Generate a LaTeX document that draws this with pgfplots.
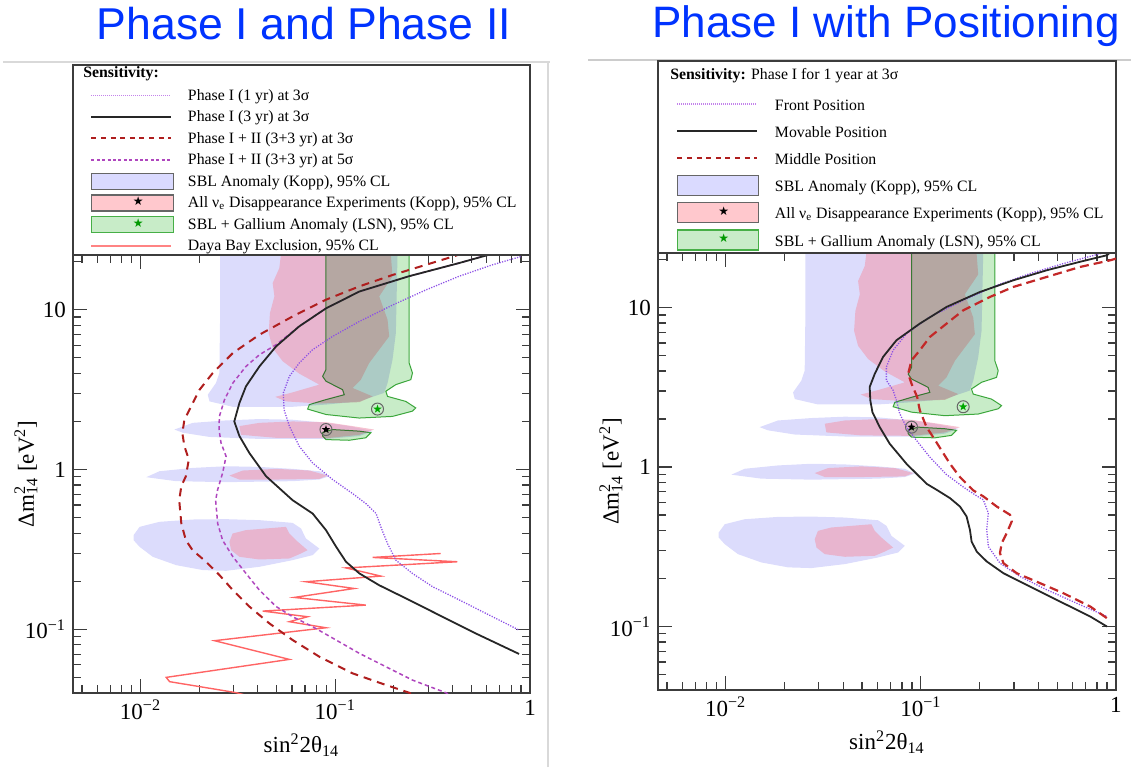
\documentclass[border=0pt]{standalone}
\usepackage{fontspec}
\setmainfont{Liberation Serif}
\newfontfamily\titlefont{Liberation Sans}
\newfontfamily\symfont{DejaVu Sans}
\usepackage{pgfplots}
\pgfplotsset{compat=1.18}
\usepackage{pgfplotstable}

\definecolor{sblblue}{RGB}{220,220,252}
\definecolor{pinkf}{RGB}{240,155,178}
\definecolor{greenf}{RGB}{200,236,200}
\definecolor{greenl}{RGB}{70,175,70}
\definecolor{pinkleg}{RGB}{255,200,205}
\definecolor{blueleg}{RGB}{218,218,255}
\definecolor{darkred}{RGB}{175,30,30}
\definecolor{darkred2}{RGB}{195,40,40}
\definecolor{pdash}{RGB}{175,70,190}
\definecolor{pdot}{RGB}{140,80,230}
\definecolor{pdotleg}{RGB}{195,130,235}
\definecolor{daya}{RGB}{255,100,100}
\definecolor{titleblue}{RGB}{0,51,255}
\definecolor{axgray}{RGB}{60,60,60}

\pgfdeclareplotmark{fstar}{%
  \pgfpathmoveto{\pgfpointpolar{90}{\pgfplotmarksize}}%
  \pgfpathlineto{\pgfpointpolar{126}{0.4\pgfplotmarksize}}%
  \pgfpathlineto{\pgfpointpolar{162}{\pgfplotmarksize}}%
  \pgfpathlineto{\pgfpointpolar{198}{0.4\pgfplotmarksize}}%
  \pgfpathlineto{\pgfpointpolar{234}{\pgfplotmarksize}}%
  \pgfpathlineto{\pgfpointpolar{270}{0.4\pgfplotmarksize}}%
  \pgfpathlineto{\pgfpointpolar{306}{\pgfplotmarksize}}%
  \pgfpathlineto{\pgfpointpolar{342}{0.4\pgfplotmarksize}}%
  \pgfpathlineto{\pgfpointpolar{18}{\pgfplotmarksize}}%
  \pgfpathlineto{\pgfpointpolar{54}{0.4\pgfplotmarksize}}%
  \pgfpathclose\pgfusepathqfill}

\tikzset{
  dotline/.style={color=pdot, line width=0.65pt, dash pattern=on 0.6pt off 0.7pt},
  blackline/.style={color=black!85, line width=0.9pt},
  redline/.style={color=darkred, line width=1pt, dash pattern=on 4pt off 3pt},
  purline/.style={color=pdash, line width=0.75pt, dash pattern=on 2pt off 1.5pt},
  dayaline/.style={color=daya, line width=0.7pt},
  redlineR/.style={color=darkred2, line width=1.1pt, dash pattern=on 4.5pt off 2.5pt},
}
\newcommand\LSa{\rule[-2.2pt]{0pt}{8.5pt}}
\newcommand\LSb{\rule[-3pt]{0pt}{10.5pt}}

% ---------------- allowed regions (shared by both panels) ----------------
\pgfplotstableread{
x y
0.02562 22
0.2088 22
0.2047 7.15
0.1968 4.87
0.1856 3.48
0.1783 3.02
0.1327 2.67
0.0896 2.55
0.0604 2.47
0.0297 2.47
0.0226 2.67
0.02215 2.94
0.0244 3.48
0.0254 4.02
0.02562 9.085
0.02562 22
}\blueA
\pgfplotstableread{
x y
0.01493 1.78
0.01854 1.96
0.0275 2.03
0.0408 2.07
0.0604 2.05
0.0896 1.96
0.1180 1.87
0.1554 1.74
0.1327 1.62
0.0896 1.555
0.0408 1.555
0.0226 1.60
0.01648 1.70
0.01493 1.78
}\blueB
\pgfplotstableread{
x y
0.0107 0.896
0.01251 0.976
0.01854 1.024
0.0275 1.049
0.0408 1.039
0.0604 1.01
0.0828 0.976
0.0932 0.909
0.0828 0.866
0.0604 0.846
0.0275 0.834
0.01524 0.846
0.0107 0.896
}\blueC
\pgfplotstableread{
x y
0.00921 0.3886
0.00989 0.438
0.01251 0.471
0.01854 0.487
0.0275 0.4894
0.0408 0.4825
0.0604 0.464
0.0667 0.428
0.0707 0.3705
0.0828 0.3206
0.0765 0.2914
0.0604 0.2712
0.0408 0.2464
0.0275 0.2326
0.0209 0.235
0.01524 0.2523
0.01156 0.2845
0.00989 0.3286
0.00921 0.3617
0.00921 0.3886
}\blueD
\pgfplotstableread{
x y
0.0526 22
0.1930 22
0.1968 16.16
0.1681 12.12
0.1856 8.66
0.1892 6.81
0.1681 5.62
0.1494 4.64
0.1354 3.65
0.1227 3.24
0.1554 2.87
0.1327 2.64
0.0828 2.59
0.0558 2.67
0.0492 2.85
0.0604 3.04
0.0828 3.40
0.0654 3.98
0.0537 4.76
0.0477 5.76
0.0455 7.15
0.0462 9.53
0.0487 12.12
0.0477 14.68
0.0516 18.21
0.0526 22
}\pinkA
\pgfplotstableread{
x y
0.0322 1.87
0.0408 1.96
0.0604 2.00
0.0896 1.98
0.1227 1.87
0.1585 1.78
0.1327 1.65
0.0896 1.57
0.0496 1.58
0.0328 1.65
0.0322 1.87
}\pinkB
\pgfplotstableread{
x y
0.0286 0.917
0.0335 0.986
0.0496 1.01
0.0736 0.986
0.0914 0.917
0.0828 0.874
0.0496 0.866
0.0322 0.866
0.0286 0.917
}\pinkC
\pgfplotstableread{
x y
0.0286 0.353
0.0297 0.398
0.0348 0.418
0.0441 0.428
0.0558 0.438
0.0581 0.398
0.0628 0.3617
0.0721 0.313
0.0654 0.2955
0.0581 0.2778
0.0408 0.2738
0.0322 0.2845
0.0292 0.313
0.0286 0.353
}\pinkD
\pgfplotstableread{
x y
0.0896 22
0.0896 4.22
0.0861 3.83
0.0896 3.57
0.109 3.16
0.1112 2.94
0.0896 2.74
0.0736 2.55
0.0721 2.39
0.0896 2.21
0.1327 2.10
0.1968 2.15
0.2492 2.32
0.2592 2.43
0.2303 2.67
0.1856 2.87
0.1819 3.09
0.2047 3.40
0.2443 3.65
0.2492 4.02
0.2396 4.64
0.2396 22
0.0896 22
}\greenA
\pgfplotstableread{
x y
0.0861 1.71
0.0969 1.78
0.1134 1.76
0.1327 1.74
0.1524 1.70
0.1436 1.58
0.1180 1.525
0.0896 1.54
0.0861 1.62
0.0861 1.71
}\greenB

% ---------------- left panel curves ----------------
\pgfplotstableread{
x y
0.895 21.5
0.641 19.1
0.433 16.2
0.292 13.3
0.197 10.7
0.133 8.45
0.0969 6.81
0.0765 5.62
0.0653 4.64
0.0581 3.83
0.0541 3.01
0.0546 2.37
0.0581 1.87
0.0653 1.40
0.0765 1.10
0.0969 0.866
0.1227 0.708
0.1436 0.613
0.162 0.531
0.1714 0.438
0.1854 0.345
0.2047 0.271
0.249 0.224
0.316 0.185
0.433 0.153
0.593 0.126
0.879 0.099
}\dotL
\pgfplotstableread{
x y
0.617 22.1
0.433 19.6
0.239 16.2
0.133 13.0
0.0896 10.2
0.0653 7.87
0.0497 5.90
0.0408 4.42
0.0348 3.32
0.0322 2.61
0.0303 2.00
0.0322 1.62
0.0362 1.27
0.0441 0.909
0.0604 0.643
0.0765 0.531
0.0896 0.418
0.101 0.329
0.1135 0.265
0.133 0.224
0.168 0.189
0.239 0.153
0.355 0.120
0.526 0.0944
0.879 0.0702
}\blackL
\pgfplotstableread{
x y
0.45 22.6
0.416 21.8
0.292 19.1
0.197 16.5
0.133 14.0
0.0896 11.55
0.0604 9.08
0.0408 6.98
0.0298 5.36
0.0235 4.02
0.0201 3.16
0.0182 2.49
0.0168 2.05
0.0164 1.69
0.0168 1.40
0.0177 1.155
0.0171 0.909
0.0162 0.787
0.0158 0.643
0.0162 0.460
0.0171 0.361
0.0185 0.313
0.0217 0.265
0.0254 0.219
0.0298 0.176
0.0362 0.139
0.0459 0.109
0.0604 0.0858
0.0828 0.0675
0.1227 0.0531
0.182 0.0449
0.239 0.0402
0.26 0.038
}\redL
\pgfplotstableread{
x y
0.65 22.6
0.433 19.6
0.239 16.2
0.133 13.0
0.0896 10.2
0.0653 7.87
0.0497 6.04
0.0408 5.23
0.0348 4.42
0.0298 3.48
0.0270 2.74
0.0254 2.15
0.0253 1.78
0.0259 1.47
0.0275 1.21
0.0264 0.953
0.0249 0.750
0.0243 0.643
0.0249 0.460
0.0264 0.361
0.0298 0.285
0.0348 0.224
0.0408 0.176
0.0497 0.139
0.0604 0.120
0.0765 0.104
0.101 0.0858
0.133 0.0708
0.182 0.0584
0.249 0.0482
0.369 0.0402
0.40 0.038
}\purL
\pgfplotstableread{
x y
0.348 0.2985
0.1554 0.282
0.424 0.265
0.1135 0.2425
0.1714 0.2155
0.0707 0.1987
0.1251 0.1803
0.0616 0.1585
0.1436 0.1419
0.0424 0.1302
0.0721 0.120
0.0581 0.1117
0.0896 0.1024
0.0240 0.0850
0.0581 0.0649
0.01355 0.0501
0.0141 0.0471
0.031 0.0402
0.034 0.039
}\dayaL

% ---------------- right panel curves ----------------
\pgfplotstableread{
x y
1.0 23
0.831 21.8
0.538 18.9
0.363 16.35
0.2447 13.8
0.165 11.1
0.1112 8.74
0.0844 6.87
0.0721 5.40
0.0666 4.24
0.0666 3.50
0.0721 3.03
0.075 2.62
0.078 2.16
0.0844 1.78
0.095 1.47
0.1112 1.155
0.135 0.90
0.165 0.75
0.195 0.655
0.209 0.624
0.2218 0.514
0.2175 0.404
0.2218 0.3177
0.2544 0.2497
0.3226 0.206
0.442 0.170
0.656 0.1368
0.899 0.1156
}\dotR
\pgfplotstableread{
x y
0.95 22.6
0.899 21.3
0.656 19.4
0.442 17.15
0.298 14.84
0.201 12.54
0.1355 10.1
0.0988 7.94
0.075 6.24
0.0640 4.90
0.0581 3.85
0.0547 3.18
0.0551 2.62
0.0565 2.21
0.0616 1.78
0.0693 1.40
0.0844 1.049
0.107 0.786
0.1204 0.721
0.141 0.639
0.1586 0.566
0.1716 0.490
0.1785 0.404
0.182 0.3416
0.1932 0.2956
0.2175 0.256
0.265 0.216
0.363 0.178
0.538 0.140
0.738 0.1156
0.899 0.100
}\blackR
\pgfplotstableread{
x y
1.0 20.3
0.935 19.8
0.656 18.0
0.442 15.58
0.298 13.48
0.2262 11.67
0.165 9.62
0.1355 7.94
0.1112 6.54
0.0988 5.40
0.0896 4.67
0.0861 3.85
0.0896 3.33
0.0958 2.75
0.0988 2.27
0.107 1.78
0.1157 1.54
0.1277 1.272
0.141 1.049
0.1586 0.866
0.1857 0.714
0.209 0.655
0.2447 0.566
0.2865 0.502
0.2922 0.456
0.2755 0.385
0.2597 0.3334
0.2544 0.2886
0.265 0.2497
0.310 0.216
0.4088 0.187
0.538 0.1618
0.738 0.1335
0.899 0.1128
}\redR

\begin{document}
\begin{tikzpicture}
\useasboundingbox (0pt,0pt) rectangle (565.5pt,383.5pt);
\draw[black!15, line width=0.6pt] (1.5pt,352.5pt) -- (275pt,352.5pt);
\draw[black!15, line width=0.6pt] (274pt,0pt) -- (274pt,352.5pt);
\draw[black!20, line width=0.6pt] (294pt,353.5pt) -- (565.5pt,353.5pt);

% ================= left panel =================
\begin{axis}[name=L, at={(36.5pt,37pt)}, anchor=south west,
  width=228.5pt, height=219pt, scale only axis,
  xmode=log, ymode=log,
  xmin=0.0045, xmax=1, ymin=0.04, ymax=22,
  xtick={0.01,0.1,1}, xticklabels={10\textsuperscript{−2},10\textsuperscript{−1},1},
  ytick={0.1,1,10}, yticklabels={10\textsuperscript{−1},1,10},
  minor xtick={0.005,0.006,0.007,0.008,0.009,0.02,0.03,0.04,0.05,0.06,0.07,0.08,0.09,0.2,0.3,0.4,0.5,0.6,0.7,0.8,0.9},
  minor ytick={0.05,0.06,0.07,0.08,0.09,0.2,0.3,0.4,0.5,0.6,0.7,0.8,0.9,2,3,4,5,6,7,8,9,20},
  axis line style={axgray, line width=1pt},
  tick style={axgray, line width=0.6pt},
  major tick length=7pt, minor tick length=4pt,
  tick label style={font=\fontsize{11.5}{13}\selectfont},
  label style={font=\fontsize{11.5}{13}\selectfont},
  xlabel={sin\textsuperscript{2}2θ\textsubscript{14}},
  ylabel={Δm\rlap{\textsuperscript{2}}\textsubscript{14} [eV\textsuperscript{2}]},
  ylabel style={at={(axis description cs:-0.103,0.5)}, anchor=center},
  legend cell align=left,
  legend style={at={(0,1)}, anchor=south west, xshift=8.5pt, yshift=0pt,
    draw=none, fill=none, inner sep=0pt, row sep=2.15pt, column sep=7pt,
    nodes={inner sep=0pt}, font=\fontsize{7.9}{9}\selectfont},
]
\addlegendimage{legend image code/.code={\path[draw=none, fill=none] (0pt,-4.3pt) rectangle (41pt,4.3pt); \draw[color=pdotleg, line width=0.55pt, dash pattern=on 0.5pt off 0.5pt] (0pt,0pt) -- (40pt,0pt);}}
\addlegendentry{\LSa Phase I (1 yr) at 3σ}
\addlegendimage{legend image code/.code={\path[draw=none, fill=none] (0pt,-4.3pt) rectangle (41pt,4.3pt); \draw[blackline] (0pt,0pt) -- (40pt,0pt);}}
\addlegendentry{\LSa Phase I (3 yr) at 3σ}
\addlegendimage{legend image code/.code={\path[draw=none, fill=none] (0pt,-4.3pt) rectangle (41pt,4.3pt); \draw[redline, dash pattern=on 2.5pt off 2.3pt] (0pt,0pt) -- (40pt,0pt);}}
\addlegendentry{\LSa Phase I + II (3+3 yr) at 3σ}
\addlegendimage{legend image code/.code={\path[draw=none, fill=none] (0pt,-4.3pt) rectangle (41pt,4.3pt); \draw[purline, dash pattern=on 1.5pt off 1.2pt] (0pt,0pt) -- (40pt,0pt);}}
\addlegendentry{\LSa Phase I + II (3+3 yr) at 5σ}
\addlegendimage{legend image code/.code={\draw[draw=black!60, fill=blueleg, line width=0.6pt] (0pt,-4pt) rectangle (41pt,4pt);}}
\addlegendentry{\LSa SBL Anomaly (Kopp), 95\% CL}
\addlegendimage{legend image code/.code={\draw[draw=black!60, fill=pinkleg, line width=0.6pt] (0pt,-4pt) rectangle (41pt,4pt);
  \node[inner sep=0pt, font=\symfont\fontsize{6}{6}\selectfont] at (20.5pt,0pt) {★};}}
\addlegendentry{\LSa All ν\textsubscript{e} Disappearance Experiments (Kopp), 95\% CL}
\addlegendimage{legend image code/.code={\draw[draw=greenl, fill=greenf, line width=0.6pt] (0pt,-4pt) rectangle (41pt,4pt);
  \node[inner sep=0pt, text=green!60!black, font=\symfont\fontsize{6}{6}\selectfont] at (20.5pt,0pt) {★};}}
\addlegendentry{\LSa SBL + Gallium Anomaly (LSN), 95\% CL}
\addlegendimage{legend image code/.code={\path[draw=none, fill=none] (0pt,-4.3pt) rectangle (41pt,4.3pt); \draw[dayaline, color=daya!80] (0pt,0pt) -- (40pt,0pt);}}
\addlegendentry{\LSa Daya Bay Exclusion, 95\% CL}

\addplot[forget plot, fill=sblblue, draw=none] table {\blueA};
\addplot[forget plot, fill=sblblue, draw=none] table {\blueB};
\addplot[forget plot, fill=sblblue, draw=none] table {\blueC};
\addplot[forget plot, fill=sblblue, draw=none] table {\blueD};
\addplot[forget plot, fill=pinkf, fill opacity=0.6, draw=none] table {\pinkA};
\addplot[forget plot, fill=pinkf, fill opacity=0.6, draw=none] table {\pinkB};
\addplot[forget plot, fill=pinkf, fill opacity=0.6, draw=none] table {\pinkC};
\addplot[forget plot, fill=pinkf, fill opacity=0.6, draw=none] table {\pinkD};
\addplot[forget plot, fill=greenf, draw=greenl, line width=0.5pt, blend mode=multiply] table {\greenA};
\addplot[forget plot, fill=greenf, draw=greenl, line width=0.5pt, blend mode=multiply] table {\greenB};
\addplot[forget plot, dayaline] table {\dayaL};
\addplot[forget plot, dotline] table {\dotL};
\addplot[forget plot, purline] table {\purL};
\addplot[forget plot, redline] table {\redL};
\addplot[forget plot, blackline] table {\blackL};
\addplot[forget plot, only marks, mark=o, mark size=3pt, mark options={draw=black!60, line width=0.5pt}]
  coordinates {(0.0896,1.78) (0.1648,2.39)};
\addplot[forget plot, only marks, mark=fstar, mark size=2.2pt, black] coordinates {(0.0896,1.78)};
\addplot[forget plot, only marks, mark=fstar, mark size=2.2pt, green!65!black] coordinates {(0.1648,2.39)};
\end{axis}

% ================= right panel =================
\begin{axis}[name=R, at={(329pt,38.5pt)}, anchor=south west,
  width=229pt, height=218.5pt, scale only axis,
  xmode=log, ymode=log,
  xmin=0.0045, xmax=1, ymin=0.04, ymax=22,
  xtick={0.01,0.1,1}, xticklabels={10\textsuperscript{−2},10\textsuperscript{−1},1},
  ytick={0.1,1,10}, yticklabels={10\textsuperscript{−1},1,10},
  minor xtick={0.005,0.006,0.007,0.008,0.009,0.02,0.03,0.04,0.05,0.06,0.07,0.08,0.09,0.2,0.3,0.4,0.5,0.6,0.7,0.8,0.9},
  minor ytick={0.05,0.06,0.07,0.08,0.09,0.2,0.3,0.4,0.5,0.6,0.7,0.8,0.9,2,3,4,5,6,7,8,9,20},
  axis line style={axgray, line width=1pt},
  tick style={axgray, line width=0.6pt},
  major tick length=7pt, minor tick length=4pt,
  tick label style={font=\fontsize{11.5}{13}\selectfont},
  label style={font=\fontsize{11.5}{13}\selectfont},
  xlabel={sin\textsuperscript{2}2θ\textsubscript{14}},
  ylabel={Δm\rlap{\textsuperscript{2}}\textsubscript{14} [eV\textsuperscript{2}]},
  ylabel style={at={(axis description cs:-0.103,0.5)}, anchor=center},
  legend cell align=left,
  legend style={at={(0,1)}, anchor=south west, xshift=9pt, yshift=1pt,
    draw=none, fill=none, inner sep=0pt, row sep=3pt, column sep=8pt,
    nodes={inner sep=0pt}, font=\fontsize{7.9}{9}\selectfont},
]
\addlegendimage{legend image code/.code={\path[draw=none, fill=none] (0pt,-5.3pt) rectangle (40.5pt,5.3pt); \draw[color=pdotleg, line width=0.55pt, dash pattern=on 0.5pt off 0.5pt] (0pt,0pt) -- (40pt,0pt);}}
\addlegendentry{\LSb Front Position}
\addlegendimage{legend image code/.code={\path[draw=none, fill=none] (0pt,-5.3pt) rectangle (40.5pt,5.3pt); \draw[blackline] (0pt,0pt) -- (40pt,0pt);}}
\addlegendentry{\LSb Movable Position}
\addlegendimage{legend image code/.code={\path[draw=none, fill=none] (0pt,-5.3pt) rectangle (40.5pt,5.3pt); \draw[redline, dash pattern=on 2.5pt off 2.3pt] (0pt,0pt) -- (40pt,0pt);}}
\addlegendentry{\LSb Middle Position}
\addlegendimage{legend image code/.code={\draw[draw=black!60, fill=blueleg, line width=0.6pt] (0pt,-5pt) rectangle (40.5pt,5pt);}}
\addlegendentry{\LSb SBL Anomaly (Kopp), 95\% CL}
\addlegendimage{legend image code/.code={\draw[draw=black!60, fill=pinkleg, line width=0.6pt] (0pt,-5pt) rectangle (40.5pt,5pt);
  \node[inner sep=0pt, font=\symfont\fontsize{6}{6}\selectfont] at (20.25pt,0pt) {★};}}
\addlegendentry{\LSb All ν\textsubscript{e} Disappearance Experiments (Kopp), 95\% CL}
\addlegendimage{legend image code/.code={\draw[draw=greenl, fill=greenf, line width=0.6pt] (0pt,-5pt) rectangle (40.5pt,5pt);
  \node[inner sep=0pt, text=green!60!black, font=\symfont\fontsize{6}{6}\selectfont] at (20.25pt,0pt) {★};}}
\addlegendentry{\LSb SBL + Gallium Anomaly (LSN), 95\% CL}

\addplot[forget plot, fill=sblblue, draw=none] table {\blueA};
\addplot[forget plot, fill=sblblue, draw=none] table {\blueB};
\addplot[forget plot, fill=sblblue, draw=none] table {\blueC};
\addplot[forget plot, fill=sblblue, draw=none] table {\blueD};
\addplot[forget plot, fill=pinkf, fill opacity=0.6, draw=none] table {\pinkA};
\addplot[forget plot, fill=pinkf, fill opacity=0.6, draw=none] table {\pinkB};
\addplot[forget plot, fill=pinkf, fill opacity=0.6, draw=none] table {\pinkC};
\addplot[forget plot, fill=pinkf, fill opacity=0.6, draw=none] table {\pinkD};
\addplot[forget plot, fill=greenf, draw=greenl, line width=0.5pt, blend mode=multiply] table {\greenA};
\addplot[forget plot, fill=greenf, draw=greenl, line width=0.5pt, blend mode=multiply] table {\greenB};
\addplot[forget plot, dotline] table {\dotR};
\addplot[forget plot, redlineR] table {\redR};
\addplot[forget plot, blackline] table {\blackR};
\addplot[forget plot, only marks, mark=o, mark size=3pt, mark options={draw=black!60, line width=0.5pt}]
  coordinates {(0.0896,1.78) (0.1648,2.39)};
\addplot[forget plot, only marks, mark=fstar, mark size=2.2pt, black] coordinates {(0.0896,1.78)};
\addplot[forget plot, only marks, mark=fstar, mark size=2.2pt, green!65!black] coordinates {(0.1648,2.39)};
\end{axis}

% legend frames, headers and titles
\draw[axgray, line width=1pt] (36.5pt,256pt) rectangle (265pt,351pt);
\draw[axgray, line width=1pt] (329pt,257pt) rectangle (558pt,353pt);
\node[anchor=base west, inner sep=0pt, font=\fontsize{7.9}{9}\selectfont] at (41.5pt,344.5pt) {\textbf{Sensitivity:}};
\node[anchor=base west, inner sep=0pt, font=\fontsize{7.9}{9}\selectfont] at (335pt,343.5pt) {\textbf{Sensitivity:} Phase I for 1 year at 3σ};
\node[anchor=base, inner sep=0pt, text=titleblue, font=\titlefont\fontsize{22.3}{26}\selectfont] at (152pt,363.5pt) {Phase I and Phase II};
\node[anchor=base, inner sep=0pt, text=titleblue, font=\titlefont\fontsize{22}{26}\selectfont] at (443pt,364.5pt) {Phase I with Positioning};
\end{tikzpicture}
\end{document}
